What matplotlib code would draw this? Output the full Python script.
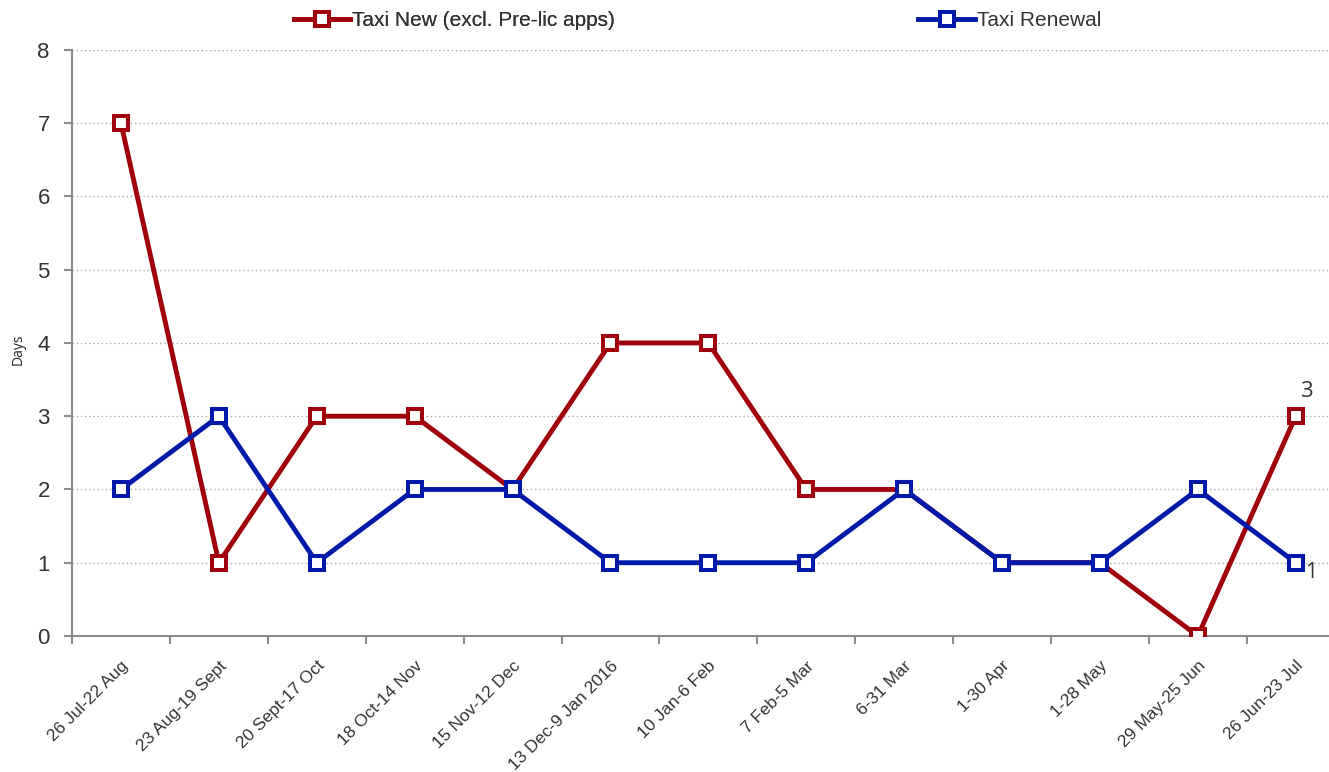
import matplotlib.pyplot as plt
from matplotlib.ticker import FixedLocator

periods = ["26 Jul-22 Aug", "23 Aug-19 Sept", "20 Sept-17 Oct", "18 Oct-14 Nov",
           "15 Nov-12 Dec", "13 Dec-9 Jan 2016", "10 Jan-6 Feb", "7 Feb-5 Mar",
           "6-31 Mar", "1-30 Apr", "1-28 May", "29 May-25 Jun", "26 Jun-23 Jul"]
taxi_new = [7, 1, 3, 3, 2, 4, 4, 2, 2, 1, 1, 0, 3]
taxi_renewal = [2, 3, 1, 2, 2, 1, 1, 1, 2, 1, 1, 2, 1]

red = "#A0000A"
blue = "#0019A8"
grey = "#8C8C8C"

plt.rcParams['font.family'] = ['Liberation Sans', 'DejaVu Sans']

fig = plt.figure(figsize=(13.29, 7.72), dpi=100)
ax = fig.add_axes([0.0542, 0.1762, 0.9458, 0.7591])

x = list(range(len(periods)))
l1, = ax.plot(x, taxi_new, color=red, lw=3.5, marker="s", ms=9.5,
              mfc="white", mec=red, mew=2.9, label="Taxi New (excl. Pre-lic apps)", zorder=3)
l2, = ax.plot(x, taxi_renewal, color=blue, lw=3.5, marker="s", ms=9.5,
              mfc="white", mec=blue, mew=2.9, label="Taxi Renewal", zorder=4)

ax.set_xlim(-0.5, 12.34)
ax.set_ylim(0, 8)
ax.set_yticks(range(0, 9))
ax.grid(axis="y", color="#A6A6A6", linestyle=(0, (1, 2)), lw=1)
ax.set_axisbelow(True)

ax.set_xticks(x)
ax.set_xticklabels(periods, rotation=45, ha="right", rotation_mode="anchor",
                   fontsize=12.5, color="#333333")
ax.tick_params(axis="x", which="major", length=0, pad=16)
ax.xaxis.set_minor_locator(FixedLocator([i - 0.5 for i in x]))
ax.tick_params(axis="x", which="minor", length=6, color=grey, width=1.5)
ax.tick_params(axis="y", length=6, color=grey, width=1.5, labelsize=16,
               labelcolor="#333333", pad=10)

for side in ["top", "right"]:
    ax.spines[side].set_visible(False)
for side in ["left", "bottom"]:
    ax.spines[side].set_color(grey)
    ax.spines[side].set_linewidth(1.5)

ax.set_ylabel("Days", fontsize=10, family="Open Sans", color="#222222")
ax.yaxis.set_label_coords(-0.037, 0.49)

# end-of-series labels
ax.annotate(str(taxi_new[-1]), (x[-1], taxi_new[-1]), xytext=(8, 18),
            textcoords="offset points", ha="center", va="center",
            fontsize=16, family="Open Sans", color="#333333")
ax.annotate(str(taxi_renewal[-1]), (x[-1], taxi_renewal[-1]), xytext=(11, -7),
            textcoords="offset points", ha="center", va="center",
            fontsize=15, family="Open Sans", color="#333333")

leg1 = fig.legend(handles=[l1], loc="upper left", bbox_to_anchor=(0.207, 1.01),
                  frameon=False, fontsize=15, handlelength=2.7, handletextpad=0.1,
                  labelcolor="#333333")
fig.add_artist(leg1)
fig.legend(handles=[l2], loc="upper left", bbox_to_anchor=(0.677, 1.01),
           frameon=False, fontsize=15, handlelength=2.7, handletextpad=0.1,
           labelcolor="#333333")

fig.savefig("out.png", dpi=100)
